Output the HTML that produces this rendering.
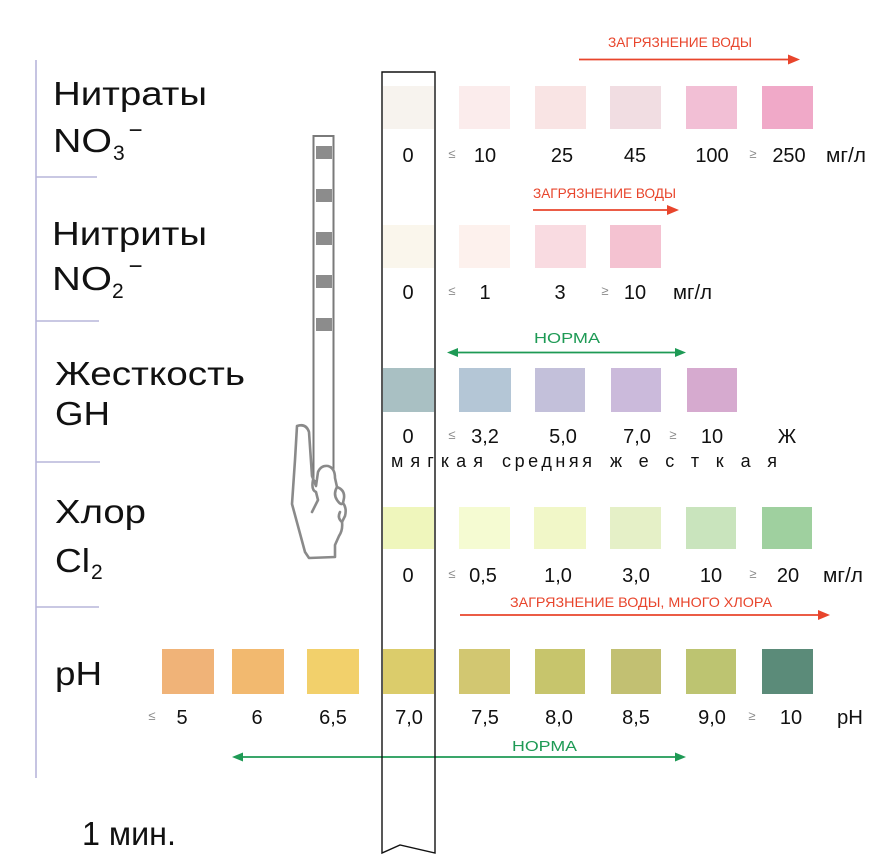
<!DOCTYPE html>
<html><head><meta charset="utf-8"><style>
html,body{margin:0;padding:0;background:#fff;}
svg{display:block;}
text{font-family:"Liberation Sans",Arial,sans-serif;}
</style></head><body>
<svg width="889" height="866" viewBox="0 0 889 866" xmlns="http://www.w3.org/2000/svg">
<rect width="889" height="866" fill="#fff"/>

<!-- left bracket lines -->
<g stroke="#b7b5da" stroke-width="1.6" fill="none">
<line x1="36" y1="60" x2="36" y2="778"/>
<line x1="36" y1="177" x2="97" y2="177"/>
<line x1="36" y1="321" x2="99" y2="321"/>
<line x1="36" y1="462" x2="100" y2="462"/>
<line x1="36" y1="607" x2="99" y2="607"/>
</g>

<!-- labels -->
<g fill="#111" font-size="33">
<text x="53" y="105" textLength="154" lengthAdjust="spacingAndGlyphs">Нитраты</text>
<text x="53" y="152" textLength="59" lengthAdjust="spacingAndGlyphs">NO</text>
<text x="52" y="245" textLength="155" lengthAdjust="spacingAndGlyphs">Нитриты</text>
<text x="52" y="290" textLength="60" lengthAdjust="spacingAndGlyphs">NO</text>
<text x="55" y="385" textLength="190" lengthAdjust="spacingAndGlyphs">Жесткость</text>
<text x="55" y="425" textLength="55" lengthAdjust="spacingAndGlyphs">GH</text>
<text x="55" y="523" textLength="91" lengthAdjust="spacingAndGlyphs">Хлор</text>
<text x="55" y="572" textLength="35" lengthAdjust="spacingAndGlyphs">Cl</text>
<text x="55" y="685" textLength="47" lengthAdjust="spacingAndGlyphs">pH</text>
<text x="82" y="845" textLength="94" lengthAdjust="spacingAndGlyphs">1 мин.</text>
</g>
<g fill="#111" font-size="21">
<text x="113" y="160">3</text>
<text x="112" y="298">2</text>
<text x="91" y="579">2</text>
</g>
<g fill="#111" font-size="24" text-anchor="middle">
<text x="135.5" y="138">−</text>
<text x="135.5" y="274">−</text>
</g>

<!-- small strip -->
<rect x="313.5" y="136" width="20" height="345" fill="#fff" stroke="#7a7a7a" stroke-width="2"/>
<g fill="#8c8c8c">
<rect x="316" y="146" width="16" height="13"/>
<rect x="316" y="189" width="16" height="13"/>
<rect x="316" y="232" width="16" height="13"/>
<rect x="316" y="275" width="16" height="13"/>
<rect x="316" y="318" width="16" height="13"/>
</g>

<!-- hand -->
<g stroke="#8a8a8a" stroke-width="2.6" fill="#fff" stroke-linejoin="round" stroke-linecap="round">
<path d="M297,426 Q306,423 309,432 L312,476 L316,486 L318,472 Q321,465 328,466 Q335,468 335,478 L337,487 Q345,490 344,498 L343,503 Q347,508 345,516 L342,522 Q343,530 339,536 L335,545 L335,557 L309,558 L305,552 L292,504 L295,460 Z"/>
<path d="M313,480 Q311,490 316,492 L318,500 L312,512" fill="none"/>
<path d="M337,487 Q333,494 337,500 Q341,506 343,503" fill="none"/>
<path d="M342,522 Q337,518 340,512" fill="none"/>
</g>

<!-- main strip background -->
<path d="M382,72 L435,72 L435,853 L400,845 L382,853 Z" fill="#fff"/>

<!-- swatches: nitrate -->
<g>
<rect x="383" y="86" width="51" height="43" fill="#f7f3ee"/>
<rect x="459" y="86" width="51" height="43" fill="#fbecec"/>
<rect x="535" y="86" width="51" height="43" fill="#f9e4e4"/>
<rect x="610" y="86" width="51" height="43" fill="#f1dde2"/>
<rect x="686" y="86" width="51" height="43" fill="#f2bfd5"/>
<rect x="762" y="86" width="51" height="43" fill="#f0a9c8"/>
<!-- nitrite -->
<rect x="383" y="225" width="51" height="43" fill="#faf6ec"/>
<rect x="459" y="225" width="51" height="43" fill="#fdf1ed"/>
<rect x="535" y="225" width="51" height="43" fill="#f9dbe1"/>
<rect x="610" y="225" width="51" height="43" fill="#f4c2d1"/>
<!-- hardness -->
<rect x="383" y="368" width="51" height="44" fill="#a9c0c3"/>
<rect x="459" y="368" width="52" height="44" fill="#b4c6d6"/>
<rect x="535" y="368" width="50" height="44" fill="#c3c0da"/>
<rect x="611" y="368" width="50" height="44" fill="#cbbadb"/>
<rect x="687" y="368" width="50" height="44" fill="#d6aacf"/>
<!-- chlorine -->
<rect x="383" y="507" width="51" height="42" fill="#eff6bc"/>
<rect x="459" y="507" width="51" height="42" fill="#f5fbd2"/>
<rect x="534" y="507" width="52" height="42" fill="#f1f7c8"/>
<rect x="610" y="507" width="51" height="42" fill="#e5f0c7"/>
<rect x="686" y="507" width="50" height="42" fill="#c9e4bd"/>
<rect x="762" y="507" width="50" height="42" fill="#9fd09f"/>
<!-- pH -->
<rect x="162" y="649" width="52" height="45" fill="#f0b378"/>
<rect x="232" y="649" width="52" height="45" fill="#f2b96f"/>
<rect x="307" y="649" width="52" height="45" fill="#f2d06b"/>
<rect x="383" y="649" width="51" height="45" fill="#dbcc6b"/>
<rect x="459" y="649" width="51" height="45" fill="#d2c771"/>
<rect x="535" y="649" width="50" height="45" fill="#c7c56c"/>
<rect x="611" y="649" width="50" height="45" fill="#c2c072"/>
<rect x="686" y="649" width="50" height="45" fill="#bdc471"/>
<rect x="762" y="649" width="51" height="45" fill="#5b8b79"/>
</g>

<!-- red arrows -->
<g fill="#e8452c" stroke="none">
<text x="608" y="47" font-size="14" textLength="144" lengthAdjust="spacingAndGlyphs">ЗАГРЯЗНЕНИЕ  ВОДЫ</text>
<text x="533" y="198" font-size="14" textLength="143" lengthAdjust="spacingAndGlyphs">ЗАГРЯЗНЕНИЕ  ВОДЫ</text>
<text x="510" y="607" font-size="14" textLength="262" lengthAdjust="spacingAndGlyphs">ЗАГРЯЗНЕНИЕ  ВОДЫ,  МНОГО ХЛОРА</text>
<polygon points="788,54.5 800,59.5 788,64.5"/>
<polygon points="667,205 679,210 667,215"/>
<polygon points="818,610 830,615 818,620"/>
</g>
<g stroke="#e8452c" stroke-width="1.8">
<line x1="579" y1="59.5" x2="790" y2="59.5"/>
<line x1="533" y1="210" x2="669" y2="210"/>
<line x1="460" y1="615" x2="820" y2="615"/>
</g>

<!-- green arrows -->
<g fill="#1e9a55">
<text x="534" y="343" font-size="15" textLength="66" lengthAdjust="spacingAndGlyphs">НОРМА</text>
<text x="512" y="751" font-size="15" textLength="65" lengthAdjust="spacingAndGlyphs">НОРМА</text>
<polygon points="447,352.5 458,348 458,357"/>
<polygon points="686,352.5 675,348 675,357"/>
<polygon points="232,757 243,752.5 243,761.5"/>
<polygon points="686,757 675,752.5 675,761.5"/>
</g>
<g stroke="#1e9a55" stroke-width="1.8">
<line x1="455" y1="352.5" x2="678" y2="352.5"/>
<line x1="240" y1="757" x2="678" y2="757"/>
</g>

<!-- numbers -->
<g fill="#111" font-size="20" text-anchor="middle">
<text x="408" y="162">0</text><text x="485" y="162">10</text><text x="562" y="162">25</text><text x="635" y="162">45</text><text x="712" y="162">100</text><text x="789" y="162">250</text>
<text x="408" y="299">0</text><text x="485" y="299">1</text><text x="560" y="299">3</text><text x="635" y="299">10</text>
<text x="408" y="443">0</text><text x="485" y="443">3,2</text><text x="563" y="443">5,0</text><text x="637" y="443">7,0</text><text x="712" y="443">10</text><text x="787" y="443">Ж</text>
<text x="408" y="582">0</text><text x="483" y="582">0,5</text><text x="558" y="582">1,0</text><text x="636" y="582">3,0</text><text x="711" y="582">10</text><text x="788" y="582">20</text>
<text x="182" y="724">5</text><text x="257" y="724">6</text><text x="333" y="724">6,5</text><text x="409" y="724">7,0</text><text x="485" y="724">7,5</text><text x="559" y="724">8,0</text><text x="636" y="724">8,5</text><text x="712" y="724">9,0</text><text x="791" y="724">10</text>
</g>
<g fill="#111" font-size="20">
<text x="826" y="162" textLength="40" lengthAdjust="spacingAndGlyphs">мг/л</text>
<text x="673" y="299" textLength="39" lengthAdjust="spacingAndGlyphs">мг/л</text>
<text x="823" y="582" textLength="40" lengthAdjust="spacingAndGlyphs">мг/л</text>
<text x="837" y="724" textLength="26" lengthAdjust="spacingAndGlyphs">pH</text>
</g>
<g fill="#111" font-size="18">
<text x="391" y="467" textLength="92" lengthAdjust="spacing">мягкая</text>
<text x="502" y="467" textLength="90" lengthAdjust="spacing">средняя</text>
<text x="610" y="467" textLength="167" lengthAdjust="spacing">жесткая</text>
</g>
<!-- small ≤ ≥ signs -->
<g fill="#8a8a8a" font-size="13" text-anchor="middle">
<text x="452" y="158">≤</text><text x="753" y="158">≥</text>
<text x="452" y="295">≤</text><text x="605" y="295">≥</text>
<text x="452" y="439">≤</text><text x="673" y="439">≥</text>
<text x="452" y="578">≤</text><text x="753" y="578">≥</text>
<text x="152" y="720">≤</text><text x="752" y="720">≥</text>
</g>

<!-- main strip outline -->
<path d="M382,72 L435,72 L435,853 L400,845 L382,853 Z" fill="none" stroke="#111" stroke-width="1.4" stroke-linejoin="miter"/>
</svg>
</body></html>
